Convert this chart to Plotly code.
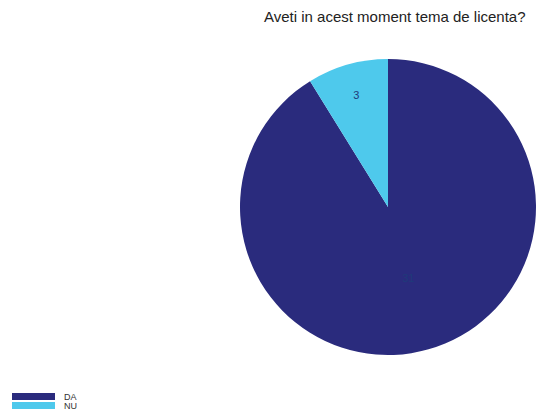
import plotly.graph_objects as go

title_text = "Aveti in acest moment tema de licenta?"
labels = ["DA", "NU"]
values = [31, 3]
colors = ["#2a2b7d", "#4ec9ec"]

FONT = "Liberation Sans, Arial, sans-serif"

fig = go.Figure()
fig.add_trace(go.Pie(
    labels=labels,
    values=values,
    sort=False,
    direction="clockwise",
    rotation=0,
    marker=dict(colors=colors, line=dict(width=0)),
    textinfo="value",
    textposition="inside",
    insidetextorientation="horizontal",
    textfont=dict(family=FONT, size=11, color="#1f3a7a"),
    domain=dict(x=[240/536, 1.0], y=[1 - 356/419, 1 - 58/419]),
    showlegend=False,
    hoverinfo="label+value",
))

# Title
fig.add_annotation(
    text=title_text, x=262/536, y=1 - 17/419, xref="paper", yref="paper",
    xanchor="left", yanchor="middle", showarrow=False,
    font=dict(family=FONT, size=15, color="#222222"),
)

# Custom legend (wide swatches at bottom-left)
for i, (lab, col) in enumerate(zip(labels, colors)):
    y0 = 393 + i * 9
    fig.add_shape(type="rect", xref="paper", yref="paper",
                  x0=12/536, x1=55/536, y0=1 - (y0 + 7)/419, y1=1 - y0/419,
                  fillcolor=col, line=dict(width=0))
    fig.add_annotation(text=lab, x=62/536, y=1 - (y0 + 3.5)/419,
                       xref="paper", yref="paper", xanchor="left", yanchor="middle",
                       showarrow=False,
                       font=dict(family=FONT, size=9, color="#333333"))

fig.update_layout(
    width=536, height=419,
    margin=dict(l=0, r=0, t=0, b=0),
    paper_bgcolor="white", plot_bgcolor="white",
)

fig.write_html(
    "out.html",
    config={"displayModeBar": False},
    post_script="document.body.style.margin='0';document.body.style.overflow='hidden';",
)
